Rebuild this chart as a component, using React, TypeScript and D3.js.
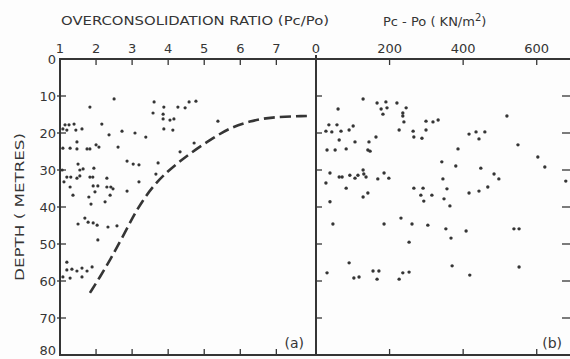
import React from "react";
import * as d3 from "d3";

// panel (a): overconsolidation ratio vs depth
const ocrValues = [
  2.5, 1.83, 3.61, 3.88, 4.27, 4.47, 4.58, 4.77, 3.58, 3.86, 3.86, 4.05, 4.16, 3.88, 4.13, 5.38,
  1.14, 1.25, 1.39, 1.44, 1.61, 1.19, 1.08, 2.16, 2.36, 2.72, 3.08, 3.38, 2.61, 4.33, 4.72,
  1.08, 1.28, 1.47, 1.75, 1.83, 2.0, 2.08, 1.47, 1.5, 1.64, 1.55, 1.94, 1.83, 1.91, 1.06,
  1.19, 1.3, 1.47, 1.55, 2.86, 3.03, 3.19, 3.72, 3.66, 3.19, 2.86, 2.3, 2.3, 2.41, 2.47, 2.39,
  1.92, 2.05, 1.97, 1.11, 1.28, 1.36, 1.8, 2.25, 1.86, 1.5, 1.69, 1.78, 1.92, 2.03, 2.33, 2.58,
  2.05, 1.19, 1.33, 1.47, 1.61, 1.75, 1.89, 1.08, 1.28, 1.19, 1.61,
];
const ocrDepths = [
  10.8, 13.0, 11.6, 13.0, 13.0, 13.2, 11.6, 11.4, 14.6, 14.9, 16.2, 16.5, 16.2, 18.9, 19.2, 16.8,
  17.8, 17.8, 17.6, 19.2, 18.9, 19.2, 18.9, 17.6, 20.5, 19.5, 20.0, 21.1, 23.8, 25.1, 22.7,
  24.1, 24.1, 24.3, 24.3, 24.3, 23.2, 23.8, 22.4, 28.4, 29.7, 30.0, 29.5, 31.9, 31.9, 30.0,
  31.9, 31.9, 32.2, 31.6, 27.6, 28.4, 28.6, 28.1, 31.1, 33.2, 35.7, 32.2, 34.6, 34.6, 35.1, 36.8,
  34.3, 34.3, 35.9, 33.2, 34.6, 36.8, 37.3, 38.6, 39.2, 44.6, 43.0, 44.1, 44.3, 44.9, 45.4, 45.1,
  48.9, 54.9, 56.8, 57.3, 56.5, 57.3, 56.2, 58.9, 59.2, 57.0, 58.9,
];

// dashed limit curve in panel (a)
const curveOcr = [1.83, 2.11, 2.39, 2.72, 3.02, 3.3, 3.63, 3.97, 4.33, 4.74, 5.24, 5.71, 6.27, 6.82, 7.85];
const curveDepth = [63.2, 58.9, 54.3, 48.4, 42.7, 38.1, 33.8, 30.5, 27.6, 24.6, 21.4, 18.6, 16.8, 15.7, 15.4];

// panel (b): Pc - Po vs depth
const diffValues = [
  128, 60, 166, 190, 177, 193, 182, 220, 245, 236, 236, 239, 299, 318, 332, 226, 264, 299, 266, 288,
  35, 57, 101, 27, 43, 68, 90, 63, 106, 144, 163, 30, 52, 82, 141, 147, 416, 435, 459, 443,
  519, 549, 386, 342, 380, 448, 484, 497, 603, 622, 679, 38, 27, 63, 71, 92, 106, 114, 128, 130,
  136, 168, 185, 198, 82, 128, 141, 38, 266, 291, 285, 293, 315, 345, 356, 348, 364, 416, 443, 467,
  46, 185, 231, 261, 304, 253, 90, 30, 103, 117, 155, 171, 166, 226, 236, 253, 353, 367, 408, 538,
  552, 370, 418, 552,
];
const diffDepths = [
  10.8, 13.5, 11.9, 11.6, 13.5, 13.2, 14.9, 11.9, 13.2, 14.6, 15.4, 17.0, 16.8, 17.0, 16.5, 19.2, 19.5, 19.2, 21.1, 21.4,
  17.8, 17.8, 18.1, 19.5, 19.7, 19.5, 19.2, 21.9, 22.4, 22.4, 21.1, 24.6, 24.6, 24.3, 24.6, 24.9, 20.3, 19.7, 19.7, 21.6,
  15.4, 23.2, 24.3, 27.8, 28.9, 29.5, 31.1, 32.4, 26.5, 29.2, 33.0, 30.8, 33.5, 31.9, 31.9, 31.4, 32.2, 31.4, 30.0, 31.1,
  31.9, 32.4, 30.8, 32.2, 34.9, 37.3, 36.2, 38.6, 34.9, 34.9, 36.8, 38.4, 36.8, 32.4, 35.1, 37.8, 39.7, 36.2, 35.7, 34.6,
  44.6, 44.6, 43.0, 44.6, 44.9, 49.5, 55.1, 57.8, 59.2, 58.9, 57.3, 57.3, 59.5, 59.5, 57.8, 57.6, 45.9, 48.4, 46.5, 45.9,
  45.9, 55.9, 58.4, 56.2,
];

const ocrTicks = [1, 2, 3, 4, 5, 6, 7];
const diffTicks = [0, 200, 400, 600];
const depthTicks = [0, 10, 20, 30, 40, 50, 60, 70, 80];

const ink = "#353535";
const font = "'DejaVu Sans', sans-serif";

export default function App() {
  const W = 570, H = 359;
  const xL = d3.scaleLinear().domain([1, 8.1]).range([60, 316]);
  const xR = d3.scaleLinear().domain([0, 685]).range([316, 568]);
  const y = d3.scaleLinear().domain([0, 80]).range([59, 355]);
  const top = y(0), bottom = y(80), left = xL(1), mid = xR(0), right = 571;

  const curvePts = curveOcr.map((v, i) => [xL(v), y(curveDepth[i])] as [number, number]);
  const curvePath = d3.line().curve(d3.curveBasis)(curvePts) || "";

  return (
    <svg width={W} height={H} style={{ position: "absolute", left: 0, top: 0, background: "#fdfdfd" }}
      fontFamily={font}>
      {/* titles */}
      <text x={61} y={25} fontSize={13} fill={ink} textLength={268} lengthAdjust="spacingAndGlyphs">
        OVERCONSOLIDATION RATIO (Pc/Po)
      </text>
      <text x={383} y={26} fontSize={13} fill={ink}>
        Pc - Po ( KN/m<tspan dy={-5} fontSize={10}>2</tspan><tspan dy={5}>)</tspan>
      </text>
      <text transform={`translate(24,${(133 + 281) / 2}) rotate(-90)`} textAnchor="middle"
        fontSize={13} fill={ink} textLength={148} lengthAdjust="spacingAndGlyphs">
        DEPTH ( METRES)
      </text>

      {/* tick labels */}
      {ocrTicks.map(t => (
        <text key={"ol" + t} x={xL(t)} y={53} fontSize={13} fill={ink} textAnchor="middle">{t}</text>
      ))}
      {diffTicks.map(t => (
        <text key={"dl" + t} x={xR(t)} y={53} fontSize={13} fill={ink} textAnchor="middle">{t}</text>
      ))}
      {depthTicks.map(t => (
        <text key={"yl" + t} x={56} y={Math.min(y(t) + 5, 355)} fontSize={13} fill={ink} textAnchor="end">{t}</text>
      ))}

      {/* frame */}
      <g stroke={ink} strokeWidth={2} fill="none">
        <rect x={left} y={top} width={right - left} height={bottom - top} />
        <line x1={mid} x2={mid} y1={top - 4} y2={bottom} />
        {ocrTicks.slice(1).map(t => (
          <g key={"ot" + t}>
            <line x1={xL(t)} x2={xL(t)} y1={top} y2={top + 6} strokeWidth={1.3} />
            <line x1={xL(t)} x2={xL(t)} y1={bottom} y2={bottom - 6} strokeWidth={1.3} />
          </g>
        ))}
        {diffTicks.slice(1).map(t => (
          <g key={"dt" + t}>
            <line x1={xR(t)} x2={xR(t)} y1={top} y2={top + 6} strokeWidth={1.3} />
            <line x1={xR(t)} x2={xR(t)} y1={bottom} y2={bottom - 6} strokeWidth={1.3} />
          </g>
        ))}
        {depthTicks.slice(1, -1).map(t => (
          <g key={"yt" + t}>
            <line x1={left - 3} x2={left + 6} y1={y(t)} y2={y(t)} strokeWidth={1.3} />
            <line x1={mid} x2={mid + 6} y1={y(t)} y2={y(t)} strokeWidth={1.3} />
            <line x1={570} x2={562} y1={y(t)} y2={y(t)} strokeWidth={1.3} />
          </g>
        ))}
      </g>

      {/* panel (a) */}
      {ocrValues.map((v, i) => (
        <circle key={"a" + i} cx={xL(v)} cy={y(ocrDepths[i])} r={1.6} fill={ink} />
      ))}
      <path d={curvePath} fill="none" stroke={ink} strokeWidth={2.6} strokeDasharray="11 5" />

      {/* panel (b) */}
      {diffValues.map((v, i) => (
        <circle key={"b" + i} cx={xR(v)} cy={y(diffDepths[i])} r={1.7} fill={ink} />
      ))}

      <text x={304} y={348} fontSize={14} fill={ink} textAnchor="end">(a)</text>
      <text x={562} y={348} fontSize={14} fill={ink} textAnchor="end">(b)</text>
    </svg>
  );
}
